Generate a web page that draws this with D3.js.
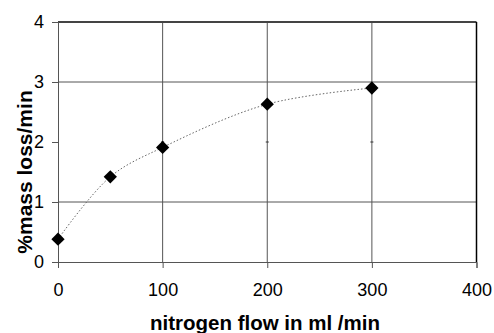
<!DOCTYPE html>
<html>
<head>
<meta charset="utf-8">
<script src="https://cdn.jsdelivr.net/npm/d3@7"></script>
<style>
  body { margin: 0; background: #fff; }
  text { font-family: "Liberation Sans", Arial, sans-serif; }
</style>
</head>
<body>
<div id="chart"></div>
<script>
const flow = [0, 50, 100, 200, 300];
const massLoss = [0.38, 1.42, 1.91, 2.63, 2.9];
const xTicks = [0, 100, 200, 300, 400];
const yTicks = [0, 1, 2, 3, 4];
const yGrid = [1, 3];   // the y=2 gridline is not drawn in the original

let dim = {'width': 494, 'height': 333};
let svg = d3.select('#chart').append('svg')
    .attr('width', dim.width)
    .attr('height', dim.height);

let x = d3.scaleLinear().domain([0, 400]).range([58, 476.5]);
let y = d3.scaleLinear().domain([0, 4]).range([262, 22]);

// gridlines
svg.append('g').selectAll('line.v')
    .data(xTicks.slice(1, -1))
    .enter().append('line')
    .attr('x1', d => x(d)).attr('x2', d => x(d))
    .attr('y1', y(4)).attr('y2', y(0))
    .attr('stroke', '#555').attr('stroke-width', 1);

svg.append('g').selectAll('line.h')
    .data(yGrid)
    .enter().append('line')
    .attr('x1', x(0)).attr('x2', x(400))
    .attr('y1', d => y(d)).attr('y2', d => y(d))
    .attr('stroke', '#555').attr('stroke-width', 1);

// small marks at y=2 on vertical gridlines
svg.append('g').selectAll('line')
    .data(xTicks.slice(1, -1))
    .enter().append('line')
    .attr('x1', d => x(d) - 1.5).attr('x2', d => x(d) + 1.5)
    .attr('y1', y(2)).attr('y2', y(2))
    .attr('stroke', '#333');

// frame
svg.append('line').attr('x1', x(0)).attr('x2', x(400)).attr('y1', y(4)).attr('y2', y(4))
    .attr('stroke', '#444').attr('stroke-width', 1.8);
svg.append('line').attr('x1', x(400)).attr('x2', x(400)).attr('y1', y(4)).attr('y2', y(0))
    .attr('stroke', '#000').attr('stroke-width', 1.5);

let axisY = d3.axisLeft(y).tickValues(yTicks).tickSize(6).tickPadding(8).tickFormat(d3.format('d'));
let axisX = d3.axisBottom(x).tickValues(xTicks).tickSize(6).tickPadding(15).tickFormat(d3.format('d'));

let gy = svg.append('g').attr('transform', `translate(${x(0)},0)`).call(axisY);
let gx = svg.append('g').attr('transform', `translate(0,${y(0)})`).call(axisX);
[gx, gy].forEach(g => {
  g.select('.domain').attr('stroke', '#555');
  g.selectAll('.tick line').attr('stroke', '#555');
  g.selectAll('.tick text').attr('font-size', 18).attr('fill', '#000')
    .style('font-family', '"Liberation Sans", Arial, sans-serif');
});

// smoothed dotted line
let pts = flow.map((f, i) => [f, massLoss[i]]);
let line = d3.line().x(d => x(d[0])).y(d => y(d[1])).curve(d3.curveCatmullRom.alpha(0.5));
svg.append('path').attr('d', line(pts))
    .attr('fill', 'none').attr('stroke', '#666').attr('stroke-width', 1)
    .attr('stroke-dasharray', '1.5,2');

// diamond markers
svg.selectAll('path.pt')
    .data(pts)
    .enter().append('path')
    .attr('class', 'pt')
    .attr('d', d3.symbol().type(d3.symbolSquare).size(88))
    .attr('transform', d => `translate(${x(d[0])},${y(d[1])}) rotate(45)`)
    .attr('fill', '#000');

// axis titles
svg.append('text').attr('x', 265).attr('y', 330)
    .attr('text-anchor', 'middle').attr('font-size', 20.5).attr('font-weight', 'bold')
    .text('nitrogen flow in ml /min');

svg.append('text').attr('transform', `translate(32,172) rotate(-90)`)
    .attr('text-anchor', 'middle').attr('font-size', 21).attr('font-weight', 'bold')
    .text('%mass loss/min');
</script>
</body>
</html>
